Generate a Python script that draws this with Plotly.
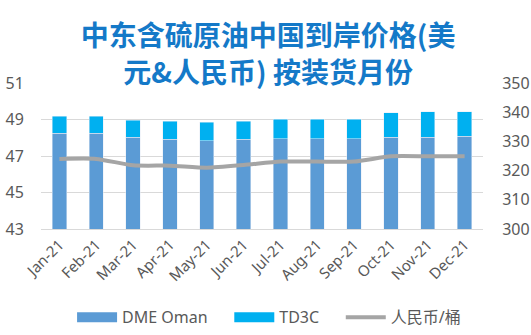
import plotly.graph_objects as go

months = ["Jan-21", "Feb-21", "Mar-21", "Apr-21", "May-21", "Jun-21",
          "Jul-21", "Aug-21", "Sep-21", "Oct-21", "Nov-21", "Dec-21"]
dme_oman = [48.24, 48.24, 48.02, 47.91, 47.84, 47.91, 47.95, 47.95, 47.95, 48.02, 48.02, 48.07]
td3c = [0.94, 0.94, 0.94, 0.99, 1.01, 0.99, 1.07, 1.07, 1.07, 1.34, 1.40, 1.35]
rmb_per_bbl = [324.0, 324.0, 321.8, 321.7, 321.0, 321.9, 323.1, 323.1, 323.1, 324.9, 324.9, 324.9]

left_ticks = [43, 45, 47, 49, 51]
right_ticks = [300, 310, 320, 330, 340, 350]

c_dme = "#5B9BD5"
c_td3c = "#00B0F0"
c_line = "#A5A5A5"
pad = "\u00a0" * 4

fig = go.Figure()
fig.add_trace(go.Bar(x=months, y=dme_oman, name="DME Oman", marker_color=c_dme, showlegend=False))
fig.add_trace(go.Bar(x=months, y=td3c, name="TD3C", marker_color=c_td3c, showlegend=False))
fig.add_trace(go.Scatter(x=months, y=rmb_per_bbl, name="人民币/桶", mode="lines",
                         line=dict(color=c_line, width=4, shape="spline", smoothing=0.6),
                         yaxis="y2", showlegend=False))
# legend entries (wide rectangle swatches like the original)
fig.add_trace(go.Scatter(x=[None], y=[None], name="DME Oman" + pad, mode="lines",
                         line=dict(color=c_dme, width=10)))
fig.add_trace(go.Scatter(x=[None], y=[None], name="TD3C" + pad, mode="lines",
                         line=dict(color=c_td3c, width=10)))
fig.add_trace(go.Scatter(x=[None], y=[None], name="人民币/桶", mode="lines",
                         line=dict(color=c_line, width=4), yaxis="y2"))

font_family = "'Noto Sans', 'Noto Sans CJK SC', sans-serif"

fig.update_layout(
    width=531, height=335,
    margin=dict(l=41, r=48, t=83, b=106, autoexpand=False),
    barmode="stack", bargap=0.61,
    plot_bgcolor="white", paper_bgcolor="white",
    font=dict(family=font_family, color="#595959"),
    title=dict(text="<b>中东含硫原油中国到岸价格(美<br>元&人民币) 按装货月份</b>",
               x=0.505, xanchor="center", y=0.862, yanchor="middle",
               font=dict(size=28, color="#1479C8", family="'Noto Sans CJK SC', sans-serif")),
    xaxis=dict(type="category", tickangle=-45, tickfont=dict(size=15, color="#595959"),
               showline=True, linecolor="#D9D9D9", ticks=""),
    yaxis=dict(range=[43, 51], tickvals=left_ticks, showgrid=True, gridcolor="#D9D9D9",
               gridwidth=1, tickfont=dict(size=16, color="#595959"), zeroline=False,
               ticks="outside", ticklen=13, tickcolor="white"),
    yaxis2=dict(range=[300, 350], tickvals=right_ticks, overlaying="y", side="right",
                showgrid=False, tickfont=dict(size=16, color="#595959"), zeroline=False,
                ticks="outside", ticklen=15, tickcolor="white"),
    legend=dict(orientation="h", x=0.516, xanchor="center", y=-0.605, yanchor="middle",
                font=dict(size=16, color="#595959"), traceorder="normal", itemwidth=40),
    showlegend=True,
)

fig.write_html("out.html")
